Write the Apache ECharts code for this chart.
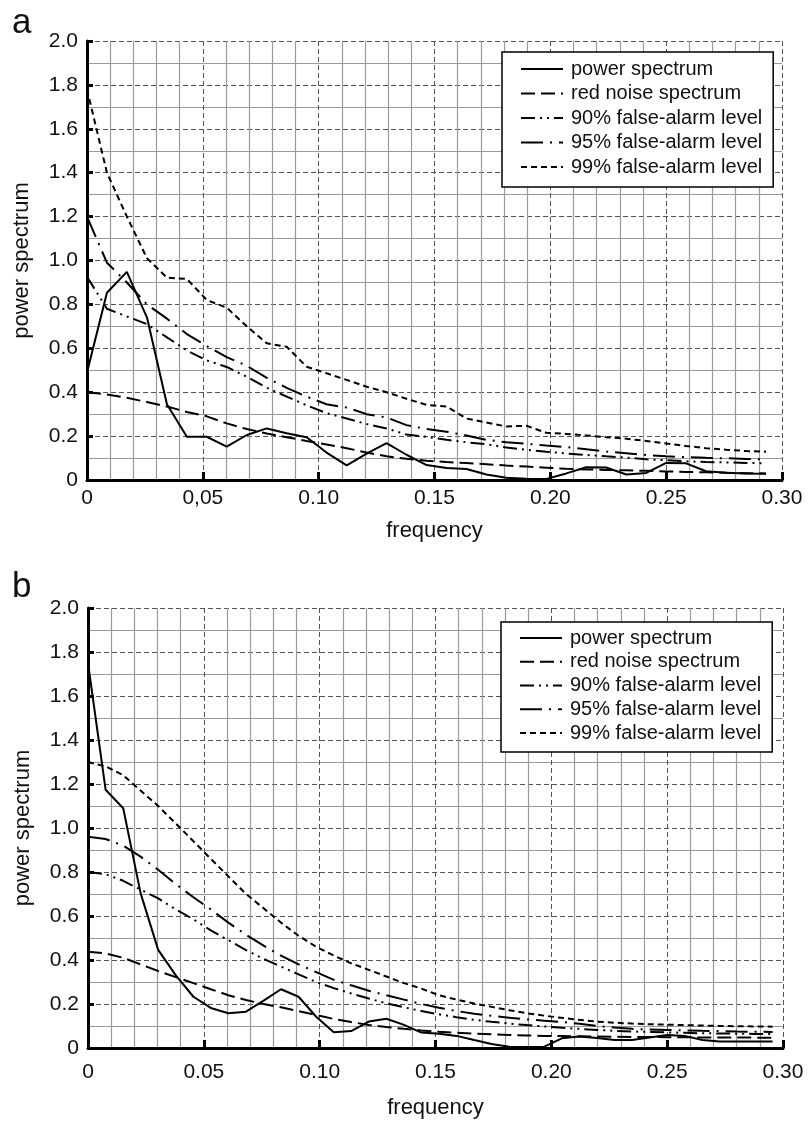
<!DOCTYPE html>
<html>
<head>
<meta charset="utf-8">
<script src="https://cdn.jsdelivr.net/npm/echarts@6/dist/echarts.min.js"></script>
<style>
html,body{margin:0;padding:0;background:#fff;}
#chart{width:808px;height:1121px;}
</style>
</head>
<body>
<div id="chart"></div>
<script>
// ---------- DATA ----------
const seriesNames = ['power spectrum','red noise spectrum','90% false-alarm level','95% false-alarm level','99% false-alarm level'];
const yTickLabels = ['0','0.2','0.4','0.6','0.8','1.0','1.2','1.4','1.6','1.8','2.0'];
const xTickLabelsA = ['0','0,05','0.10','0.15','0.20','0.25','0.30'];
const xTickLabelsB = ['0','0.05','0.10','0.15','0.20','0.25','0.30'];

// panel a
const freqA = [0,0.0086,0.0172,0.0259,0.0345,0.0431,0.0517,0.0603,0.0690,0.0776,0.0862,0.0948,0.1034,0.1121,0.1207,0.1293,0.1379,0.1466,0.1552,0.1638,0.1724,0.1810,0.1897,0.1983,0.2069,0.2155,0.2241,0.2328,0.2414,0.2500,0.2586,0.2672,0.2759,0.2845,0.2931];
const powerA = [0.49,0.853,0.948,0.74,0.345,0.197,0.197,0.152,0.205,0.235,0.213,0.195,0.125,0.067,0.12,0.168,0.115,0.068,0.055,0.05,0.025,0.01,0.006,0.005,0.03,0.058,0.057,0.025,0.032,0.078,0.076,0.04,0.033,0.03,0.028];
const redA = [0.40,0.39,0.375,0.355,0.335,0.31,0.29,0.258,0.232,0.212,0.195,0.178,0.162,0.145,0.125,0.108,0.097,0.088,0.082,0.077,0.072,0.066,0.061,0.056,0.051,0.048,0.046,0.044,0.042,0.039,0.037,0.035,0.033,0.031,0.03];
const p90A = [0.926,0.78,0.745,0.71,0.65,0.59,0.545,0.515,0.47,0.42,0.38,0.34,0.305,0.28,0.255,0.235,0.207,0.197,0.183,0.172,0.163,0.148,0.138,0.129,0.121,0.114,0.108,0.102,0.094,0.09,0.085,0.082,0.08,0.078,0.076];
const p95A = [1.20,0.99,0.90,0.80,0.735,0.665,0.61,0.56,0.52,0.465,0.42,0.38,0.345,0.33,0.30,0.285,0.25,0.232,0.22,0.203,0.183,0.172,0.165,0.157,0.15,0.14,0.13,0.122,0.114,0.108,0.104,0.101,0.099,0.096,0.094];
const p99A = [1.78,1.40,1.20,1.01,0.922,0.916,0.82,0.785,0.70,0.623,0.607,0.516,0.486,0.456,0.425,0.40,0.37,0.342,0.335,0.28,0.262,0.244,0.247,0.215,0.21,0.203,0.195,0.188,0.178,0.166,0.155,0.145,0.138,0.132,0.129];

// panel b
const freqB = [0,0.0076,0.0152,0.0227,0.0303,0.0379,0.0455,0.0530,0.0606,0.0682,0.0758,0.0833,0.0909,0.0985,0.1061,0.1136,0.1212,0.1288,0.1364,0.1439,0.1515,0.1591,0.1667,0.1742,0.1818,0.1894,0.1970,0.2045,0.2121,0.2197,0.2273,0.2348,0.2424,0.2500,0.2576,0.2652,0.2727,0.2803,0.2879,0.2955];
const powerB = [1.75,1.174,1.09,0.704,0.446,0.33,0.233,0.182,0.158,0.165,0.215,0.267,0.233,0.142,0.072,0.077,0.12,0.133,0.105,0.07,0.065,0.055,0.036,0.018,0.006,0.005,0.006,0.044,0.052,0.045,0.036,0.036,0.048,0.059,0.055,0.036,0.03,0.029,0.029,0.029];
const redB = [0.438,0.43,0.41,0.38,0.35,0.322,0.295,0.267,0.24,0.218,0.2,0.185,0.168,0.15,0.132,0.118,0.105,0.095,0.087,0.08,0.074,0.069,0.065,0.062,0.059,0.057,0.055,0.054,0.053,0.052,0.051,0.05,0.05,0.049,0.049,0.048,0.048,0.048,0.047,0.047];
const p90B = [0.80,0.79,0.76,0.72,0.68,0.63,0.585,0.535,0.49,0.445,0.405,0.37,0.335,0.30,0.272,0.248,0.225,0.203,0.185,0.168,0.153,0.14,0.128,0.119,0.111,0.104,0.098,0.092,0.087,0.082,0.078,0.075,0.073,0.071,0.069,0.067,0.066,0.065,0.064,0.063];
const p95B = [0.96,0.95,0.92,0.87,0.81,0.745,0.685,0.63,0.57,0.515,0.465,0.42,0.38,0.345,0.31,0.285,0.26,0.24,0.22,0.2,0.183,0.168,0.156,0.146,0.138,0.13,0.124,0.118,0.11,0.1,0.093,0.087,0.084,0.082,0.08,0.078,0.077,0.075,0.074,0.073];
const p99B = [1.30,1.28,1.24,1.17,1.10,1.02,0.94,0.86,0.78,0.70,0.635,0.57,0.51,0.46,0.42,0.385,0.355,0.325,0.295,0.27,0.24,0.22,0.202,0.187,0.172,0.158,0.147,0.137,0.128,0.12,0.115,0.111,0.108,0.106,0.104,0.102,0.1,0.099,0.098,0.097];

// ---------- STYLE ----------
const FONT = "'Liberation Sans', Arial, Helvetica, sans-serif";
const dashStyles = ['solid', [14, 6], [14, 5, 2, 5, 2, 5], [22, 7, 2, 7], [6, 4]];

function pairs(f, v) { return f.map((x, i) => [x, v[i]]); }

function makeX(gridIndex, labels, labelMargin, nameGap) {
  return {
    type: 'value', gridIndex, min: 0, max: 0.30, interval: 0.05,
    name: 'frequency', nameLocation: 'middle', nameGap,
    nameTextStyle: { fontSize: 22, fontFamily: FONT, color: '#111' },
    axisLine: { show: true, onZero: false, lineStyle: { color: '#000', width: 3 } },
    axisTick: { show: true, inside: true, length: 8, lineStyle: { color: '#000', width: 3 } },
    axisLabel: { fontSize: 21, fontFamily: FONT, color: '#111', margin: labelMargin,
      formatter: v => labels[Math.round(v / 0.05)] },
    splitLine: { show: true, lineStyle: { color: '#555', width: 1, type: [5, 3] } },
    minorTick: { show: false, splitNumber: 5 },
    minorSplitLine: { show: true, lineStyle: { color: '#9a9a9a', width: 1.2 } }
  };
}
function makeY(gridIndex) {
  return {
    type: 'value', gridIndex, min: 0, max: 2.0, interval: 0.2,
    name: 'power spectrum', nameLocation: 'middle', nameGap: 54,
    nameTextStyle: { fontSize: 22, fontFamily: FONT, color: '#111' },
    axisLine: { show: true, onZero: false, lineStyle: { color: '#000', width: 3 } },
    axisTick: { show: true, inside: true, length: 6, lineStyle: { color: '#000', width: 3 } },
    axisLabel: { fontSize: 21, fontFamily: FONT, color: '#111', margin: 9,
      formatter: v => yTickLabels[Math.round(v / 0.2)] },
    splitLine: { show: true, lineStyle: { color: '#555', width: 1, type: [5, 3] } },
    minorTick: { show: false, splitNumber: 2 },
    minorSplitLine: { show: true, lineStyle: { color: '#9a9a9a', width: 1.2 } }
  };
}
function makeSeries(idx, freq, arrs) {
  return arrs.map((arr, i) => ({
    type: 'line', name: seriesNames[i], xAxisIndex: idx, yAxisIndex: idx,
    data: pairs(freq, arr), symbol: 'none', smooth: false,
    lineStyle: { color: '#000', width: 2, type: dashStyles[i] },
    itemStyle: { color: '#000' }, z: 3
  }));
}
function makeLegend(left, top, gap, padding) {
  return {
    orient: 'vertical', left, top, itemWidth: 42, itemHeight: 12, itemGap: gap,
    padding, borderColor: '#000', borderWidth: 1.5, backgroundColor: '#fff',
    itemStyle: { color: 'rgba(0,0,0,0)', borderColor: 'rgba(0,0,0,0)', borderWidth: 0, opacity: 0 },
    lineStyle: { color: '#000', width: 2 },
    textStyle: { fontSize: 20, lineHeight: 20, fontFamily: FONT, color: '#111', padding: [0, 0, 0, 3] },
    data: seriesNames, selectedMode: false, z: 10
  };
}

const chart = echarts.init(document.getElementById('chart'), null, { renderer: 'canvas' });
chart.setOption({
  animation: false,
  backgroundColor: '#fff',
  grid: [
    { left: 87, top: 41, width: 695, height: 439 },
    { left: 88, top: 608, width: 695, height: 440 }
  ],
  xAxis: [makeX(0, xTickLabelsA, 8, 40), makeX(1, xTickLabelsB, 14, 49)],
  yAxis: [makeY(0), makeY(1)],
  legend: [makeLegend(502, 52, 4.5, [7, 11, 10, 18]), makeLegend(501, 622, 3.75, [6, 11, 9, 18])],
  graphic: [
    { type: 'text', left: 12, top: 6, style: { text: 'a', fontSize: 35, fontFamily: FONT, fill: '#111' } },
    { type: 'text', left: 12, top: 570, style: { text: 'b', fontSize: 35, fontFamily: FONT, fill: '#111' } }
  ],
  series: [
    ...makeSeries(0, freqA, [powerA, redA, p90A, p95A, p99A]),
    ...makeSeries(1, freqB, [powerB, redB, p90B, p95B, p99B])
  ]
});
</script>
</body>
</html>
